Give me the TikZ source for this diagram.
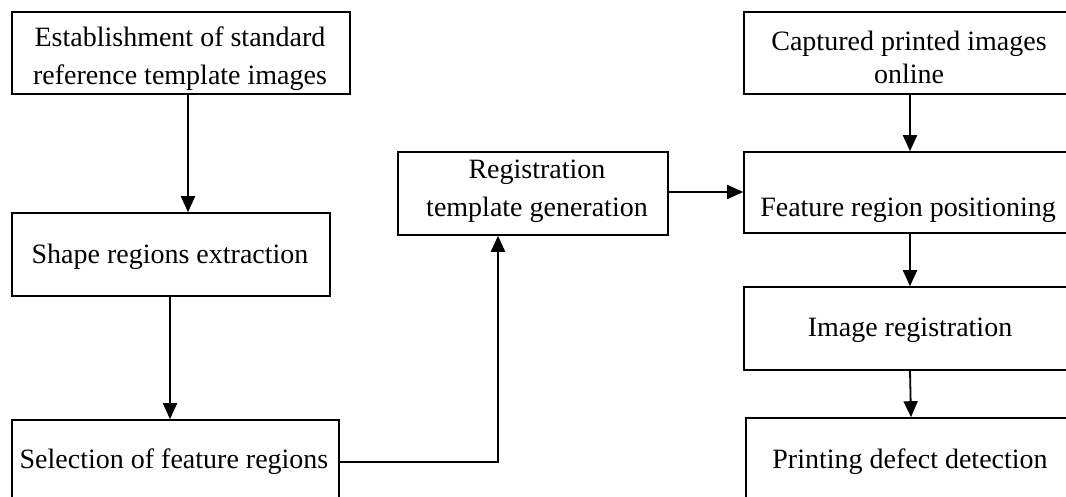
\documentclass[tikz,border=0pt]{standalone}
\usepackage{fontspec}
\setmainfont{Liberation Serif}
\usetikzlibrary{arrows.meta}
\begin{document}
\begin{tikzpicture}[x=1pt,y=-1pt,
  box/.style={draw,line width=1.6pt,inner sep=0pt},
  arr/.style={line width=1.8pt,-{Triangle[length=16pt,width=14pt]}},
  lbl/.style={inner sep=0pt,align=center,font=\fontsize{28}{38}\selectfont}]
\useasboundingbox (0,0) rectangle (1066,497);
\clip (0,0) rectangle (1066,497);
% left column
\node[box,minimum width=338pt,minimum height=82pt] (est) at (181,53) {};
\node[lbl] (estl) at (180,59) {Establishment of standard\\reference template images};
\node[box,minimum width=318pt,minimum height=83pt] (shp) at (171,254.5) {};
\node[lbl] (shpl) at (170,257) {Shape regions extraction};
\node[box,minimum width=327pt,minimum height=84pt] (sel) at (175.5,462) {};
\node[lbl] (sell) at (174,462) {Selection of feature regions};
% middle
\node[box,minimum width=270pt,minimum height=83pt] (reg) at (533,193.5) {};
\node[lbl] (regl) at (537,191.5) {Registration\\template generation};
% right column
\node[box,minimum width=332pt,minimum height=82pt] (cap) at (910,53) {};
\node[lbl,font=\fontsize{28}{33}\selectfont] (capl) at (909,57) {Captured printed images\\online};
\node[box,minimum width=332pt,minimum height=81pt] (fea) at (910,192.5) {};
\node[lbl] (feal) at (908,210) {Feature region positioning};
\node[box,minimum width=332pt,minimum height=83pt] (img) at (910,328.5) {};
\node[lbl] (imgl) at (910,330) {Image registration};
\node[box,minimum width=332pt,minimum height=88pt] (prt) at (912,462) {};
\node[lbl] (prtl) at (910,462) {Printing defect detection};
% helper coordinates
\coordinate (xa) at (188,0);
\coordinate (xb) at (170,0);
\coordinate (xc) at (498,0);
\coordinate (yr) at (0,192);
\coordinate (xr) at (910,0);
% connectors
\draw[arr] (est.south -| xa) -- (shp.north -| xa);
\draw[arr] (shp.south -| xb) -- (sel.north -| xb);
\draw[line width=2.4pt,-{Triangle[length=16pt,width=14pt]}] (sel.east) -| (reg.south -| xc);
\draw[arr] (reg.east |- yr) -- (fea.west |- yr);
\draw[arr] (cap.south -| xr) -- (fea.north -| xr);
\draw[arr] (fea.south -| xr) -- (img.north -| xr);
\draw[arr] (img.south -| xr) -- ([xshift=1pt]prt.north -| xr);
\end{tikzpicture}
\end{document}
